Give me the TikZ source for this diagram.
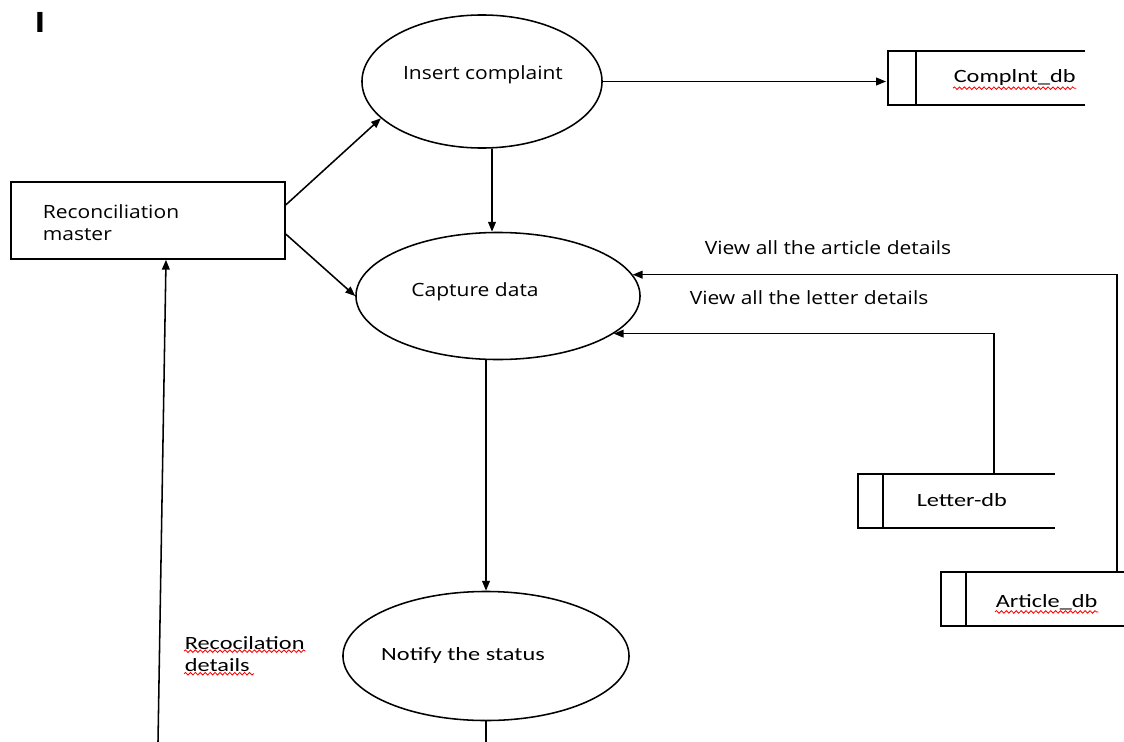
\documentclass[tikz,border=0pt]{standalone}
\usepackage{fontspec}
\usetikzlibrary{shapes.geometric,arrows.meta,decorations.pathmorphing}
\newfontfamily\segoe[FakeStretch=1.15]{Open Sans}
\newfontfamily\calib[FakeStretch=1.3]{Carlito}
\begin{document}
\begin{tikzpicture}[x=0.025cm,y=-0.025cm,line width=1.1pt,
	>={Triangle[length=7pt,width=5.5pt]},
	proc/.style={draw,ellipse,inner sep=0pt},
	lbl/.style={font=\segoe\fontsize{13}{15.6}\selectfont,inner sep=0pt,align=left},
	dblbl/.style={font=\calib\fontsize{13.3}{15.6}\selectfont,inner sep=0pt,align=left},
	squig/.style={draw=red,line width=0.6pt,decorate,decoration={snake,amplitude=0.9pt,segment length=3.5pt}}]
	\useasboundingbox (0,0) rectangle (1124,742);
	\node[font=\calib\bfseries\fontsize{22}{24}\selectfont,inner sep=0pt] (title) at (40,22) {I};
	% processes
	\node[proc,minimum width=6cm,minimum height=3.325cm] (ic) at (482,81.5) {};
	\node[proc,minimum width=7.1cm,minimum height=3.175cm] (cd) at (498,296) {};
	\node[proc,minimum width=7.15cm,minimum height=3.225cm] (nt) at (486,656) {};
	\node[lbl] (ict) at (483,75) {Insert complaint};
	\node[lbl] (cdt) at (475,292) {Capture data};
	\node[dblbl] (ntt) at (463,656) {Notify the status};
	% entity
	\node[draw,minimum width=6.85cm,minimum height=1.925cm,inner sep=0pt] (rm) at (148,220.5) {};
	\node[lbl,anchor=west] (rmt) at (42,223) {Reconciliation\\master};
	% data stores
	\draw (1085,51) -- (888,51) -- (888,105) -- (1085,105);
	\draw (916,51) -- (916,105);
	\coordinate (cdbl) at (886,79);
	\node[dblbl,anchor=west] (cdbt) at (953,78) {Complnt\_db};
	\draw (1055,474) -- (858,474) -- (858,528) -- (1055,528);
	\draw (883,474) -- (883,528);
	\coordinate (ldbtop) at (994,474);
	\node[dblbl,anchor=west] (ldbt) at (916,500) {Letter-db};
	\draw (1124,572) -- (941,572) -- (941,626) -- (1124,626);
	\draw (966,572) -- (966,626);
	\coordinate (adbtop) at (1117,572);
	\node[dblbl,anchor=west] (adbt) at (995,602) {Article\_db};
	% flows
	\draw[->] ([yshift=0.39cm]rm.east) -- (ic.200);
	\draw[->] ([yshift=-0.34cm]rm.east) -- (cd.west);
	\draw[->] (ic.east) -- (ic.east -| cdbl);
	\draw[->] ([xshift=0.25cm]ic.south) -- ([xshift=-0.15cm]cd.north);
	\draw[->] (adbtop) |- (cd.9);
	\draw[->] (ldbtop) |- (cd.342.5);
	\draw[->] (cd.south -| nt.north) -- (nt.north);
	\coordinate (ntend) at (486,742);
	\draw (nt.south) -- (ntend);
	\coordinate (rdstart) at (158,742);
	\draw[->] (rdstart) -- ([xshift=0.45cm]rm.south);
	\node[lbl,anchor=west] (artl) at (704,248) {View all the article details};
	\node[lbl,anchor=west] (letl) at (689,298) {View all the letter details};
	\node[dblbl,anchor=west] (rdt) at (184,654) {Recocilation\\details};
	% spelling marks
	\draw[squig] ([yshift=-1pt]cdbt.south west) -- ([yshift=-1pt]cdbt.south east);
	\draw[squig] ([yshift=-1pt]adbt.south west) -- ([yshift=-1pt]adbt.south east);
	\draw[squig] ([yshift=-11pt]rdt.north west) -- ([yshift=-11pt]rdt.north east);
	\draw[squig] ([yshift=-1pt]rdt.south west) -- ++(70,0);
\end{tikzpicture}
\end{document}
